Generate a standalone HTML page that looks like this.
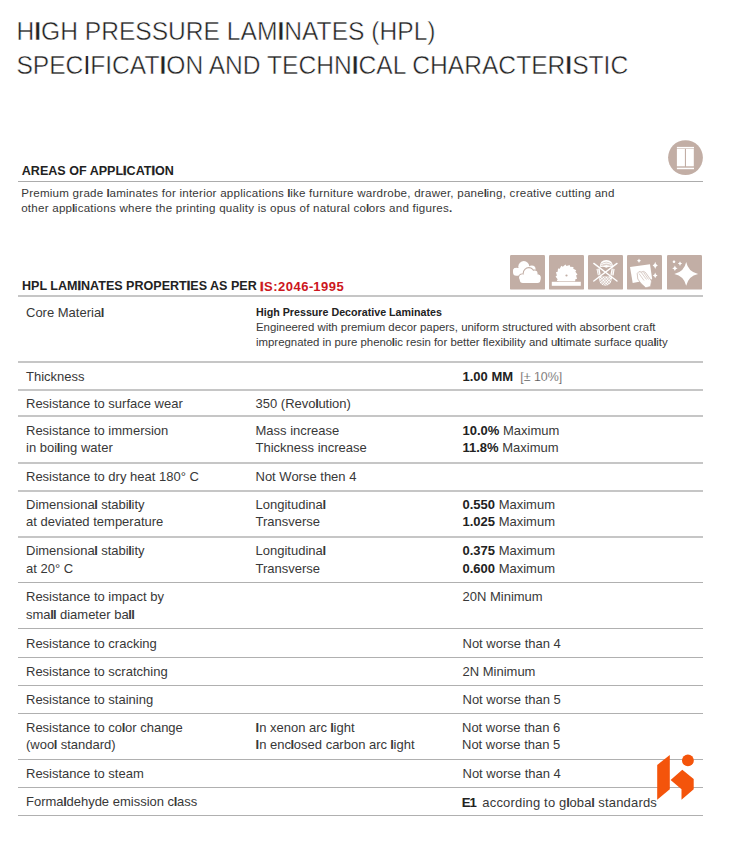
<!DOCTYPE html>
<html><head><meta charset="utf-8"><title>HPL Specification</title>
<style>
html,body{margin:0;padding:0;background:#fff;}
body{width:739px;height:841px;position:relative;overflow:hidden;font-family:"Liberation Sans", Arial, sans-serif;color:#383838;}
.t{position:absolute;white-space:nowrap;line-height:1;}
.l{position:absolute;}
.ic{position:absolute;display:block;}
b{font-weight:700;}
.k{font-weight:700;}
.kl{font-weight:700;margin-left:-0.028em;letter-spacing:-0.028em;}
.k9{font-weight:900;-webkit-text-stroke:0.5px #cc1620;}
.kb{-webkit-text-stroke:0.5px #222;}
</style></head><body>
<div class="t" style="left:16.40px;top:19.78px;font-size:24.6px;color:#222;-webkit-text-stroke:0.45px #fff;transform:scaleY(1.075);transform-origin:0 20.82px;">H<b>I</b>GH PRESSURE LAM<b>I</b>NATES (HPL)</div>
<div class="t" style="left:16.40px;top:54.08px;font-size:24.6px;color:#222;-webkit-text-stroke:0.45px #fff;transform:scaleY(1.075);transform-origin:0 20.82px;">SPEC<b style="font-weight:400;-webkit-text-stroke:0.1px #fff">I</b>FICAT<b>I</b>ON AND TECHN<b>I</b>CAL CHARACTER<b>I</b>STIC</div>
<div class="t" style="left:21.80px;top:165.38px;font-size:12.55px;font-weight:700;color:#222;">AREAS OF APPL<span class="kb">I</span>CAT<span class="kb">I</span>ON</div>
<div class="l" style="left:18px;top:181.00px;width:685px;height:1px;background:#acacac"></div>
<div class="t" style="left:21.20px;top:187.18px;font-size:11.6px;letter-spacing:0.228px;">Premium grade <span class="kl">l</span>aminates for interior applications <span class="kl">l</span>ike furniture wardrobe, drawer, pane<span class="kl">l</span>ing, creative cutting and</div>
<div class="t" style="left:21.20px;top:202.18px;font-size:11.6px;letter-spacing:0.228px;">other app<span class="kl">l</span>ications where the printing quality is opus of natural co<span class="kl">l</span>ors and figures<span class="k">.</span></div>
<div class="t" style="left:22.00px;top:280.28px;font-size:12.55px;font-weight:700;color:#222;">HPL LAM<span class="kb">I</span>NATES PROPERT<span class="kb">I</span>ES AS PER</div>
<div class="t" style="left:260.00px;top:280.00px;font-size:13px;font-weight:700;color:#cc1620;letter-spacing:0.48px;"><span class="k9">I</span>S:2046<span style="letter-spacing:0">-</span>1995</div>
<div class="l" style="left:18px;top:295.00px;width:685px;height:2px;background:#c6c6c6"></div>
<div class="l" style="left:18px;top:361.00px;width:685px;height:2px;background:#c6c6c6"></div>
<div class="l" style="left:18px;top:389.00px;width:685px;height:2px;background:#c6c6c6"></div>
<div class="l" style="left:18px;top:415.00px;width:685px;height:2px;background:#c6c6c6"></div>
<div class="l" style="left:18px;top:462.00px;width:685px;height:2px;background:#c6c6c6"></div>
<div class="l" style="left:18px;top:490.00px;width:685px;height:2px;background:#c6c6c6"></div>
<div class="l" style="left:18px;top:536.00px;width:685px;height:2px;background:#c6c6c6"></div>
<div class="l" style="left:18px;top:582.00px;width:685px;height:1px;background:#b0b0b0"></div>
<div class="l" style="left:18px;top:628.00px;width:685px;height:1px;background:#b0b0b0"></div>
<div class="l" style="left:18px;top:657.00px;width:685px;height:1px;background:#b0b0b0"></div>
<div class="l" style="left:18px;top:685.00px;width:685px;height:1px;background:#b0b0b0"></div>
<div class="l" style="left:18px;top:713.00px;width:685px;height:1px;background:#b0b0b0"></div>
<div class="l" style="left:18px;top:759.00px;width:685px;height:1px;background:#b0b0b0"></div>
<div class="l" style="left:18px;top:787.00px;width:685px;height:1px;background:#b0b0b0"></div>
<div class="l" style="left:18px;top:815.00px;width:685px;height:1px;background:#b0b0b0"></div>
<div class="t" style="left:26.00px;top:305.80px;font-size:13px;">Core Materia<span class="kl">l</span></div>
<div class="t" style="left:256.00px;top:306.75px;font-size:10.69px;font-weight:700;color:#222;">High Pressure Decorative Laminates</div>
<div class="t" style="left:256.00px;top:321.65px;font-size:11.4px;">Engineered with premium decor papers, uniform structured with absorbent craft</div>
<div class="t" style="left:256.00px;top:337.15px;font-size:11.4px;">impregnated in pure pheno<span class="kl">l</span>ic resin for better flexibility and u<span class="kl">l</span>timate surface qua<span class="kl">l</span>ity</div>
<div class="t" style="left:26.00px;top:369.50px;font-size:13px;">Thickness</div>
<div class="t" style="left:462.50px;top:369.50px;font-size:13px;"><b style="color:#222">1.00 MM</b> <span style="color:#444;margin-left:3.5px;font-size:12.4px;-webkit-text-stroke:0.25px #fff">[± 10%]</span></div>
<div class="t" style="left:26.00px;top:397.00px;font-size:13px;">Resistance to surface wear</div>
<div class="t" style="left:255.50px;top:397.00px;font-size:13px;">350 (Revo<span class="kl">l</span>ution)</div>
<div class="t" style="left:26.00px;top:423.80px;font-size:13px;">Resistance to immersion</div>
<div class="t" style="left:26.00px;top:441.00px;font-size:13px;">in boi<span class="kl">l</span>ing water</div>
<div class="t" style="left:255.50px;top:423.80px;font-size:13px;">Mass increase</div>
<div class="t" style="left:255.50px;top:441.00px;font-size:13px;">Thickness increase</div>
<div class="t" style="left:462.50px;top:423.80px;font-size:13px;"><b style="color:#222">10.0%</b> Maximum</div>
<div class="t" style="left:462.50px;top:441.00px;font-size:13px;"><b style="color:#222">11.8%</b> Maximum</div>
<div class="t" style="left:26.00px;top:469.70px;font-size:13px;">Resistance to dry heat 180° C</div>
<div class="t" style="left:255.50px;top:469.70px;font-size:13px;">Not Worse then 4</div>
<div class="t" style="left:26.00px;top:498.30px;font-size:13px;">Dimensiona<span class="kl">l</span> stabi<span class="kl">l</span>ity</div>
<div class="t" style="left:26.00px;top:515.30px;font-size:13px;">at deviated temperature</div>
<div class="t" style="left:255.50px;top:498.30px;font-size:13px;">Longitudina<span class="kl">l</span></div>
<div class="t" style="left:255.50px;top:515.30px;font-size:13px;">Transverse</div>
<div class="t" style="left:462.50px;top:498.30px;font-size:13px;"><b style="color:#222">0.550</b> Maximum</div>
<div class="t" style="left:462.50px;top:515.30px;font-size:13px;"><b style="color:#222">1.025</b> Maximum</div>
<div class="t" style="left:26.00px;top:544.30px;font-size:13px;">Dimensiona<span class="kl">l</span> stabi<span class="kl">l</span>ity</div>
<div class="t" style="left:26.00px;top:561.50px;font-size:13px;">at 20° C</div>
<div class="t" style="left:255.50px;top:544.30px;font-size:13px;">Longitudina<span class="kl">l</span></div>
<div class="t" style="left:255.50px;top:561.50px;font-size:13px;">Transverse</div>
<div class="t" style="left:462.50px;top:544.30px;font-size:13px;"><b style="color:#222">0.375</b> Maximum</div>
<div class="t" style="left:462.50px;top:561.50px;font-size:13px;"><b style="color:#222">0.600</b> Maximum</div>
<div class="t" style="left:26.00px;top:590.40px;font-size:13px;">Resistance to impact by</div>
<div class="t" style="left:26.00px;top:607.80px;font-size:13px;">sma<span class="kl">l</span><span class="kl">l</span> diameter ba<span class="kl">l</span><span class="kl">l</span></div>
<div class="t" style="left:462.50px;top:590.40px;font-size:13px;">20N Minimum</div>
<div class="t" style="left:26.00px;top:636.60px;font-size:13px;">Resistance to cracking</div>
<div class="t" style="left:462.50px;top:636.60px;font-size:13px;">Not worse than 4</div>
<div class="t" style="left:26.00px;top:664.60px;font-size:13px;">Resistance to scratching</div>
<div class="t" style="left:462.50px;top:664.60px;font-size:13px;">2N Minimum</div>
<div class="t" style="left:26.00px;top:692.50px;font-size:13px;">Resistance to staining</div>
<div class="t" style="left:462.50px;top:692.50px;font-size:13px;">Not worse than 5</div>
<div class="t" style="left:26.00px;top:720.70px;font-size:13px;">Resistance to co<span class="kl">l</span>or change</div>
<div class="t" style="left:26.00px;top:738.20px;font-size:13px;">(woo<span class="kl">l</span> standard)</div>
<div class="t" style="left:255.50px;top:720.70px;font-size:13px;"><span class="k">I</span>n xenon arc <span class="kl">l</span>ight</div>
<div class="t" style="left:255.50px;top:738.20px;font-size:13px;"><span class="k">I</span>n enc<span class="kl">l</span>osed carbon arc <span class="kl">l</span>ight</div>
<div class="t" style="left:462.00px;top:720.70px;font-size:13px;">Not worse than 6</div>
<div class="t" style="left:462.00px;top:738.20px;font-size:13px;">Not worse than 5</div>
<div class="t" style="left:26.00px;top:767.10px;font-size:13px;">Resistance to steam</div>
<div class="t" style="left:462.50px;top:767.10px;font-size:13px;">Not worse than 4</div>
<div class="t" style="left:26.00px;top:795.30px;font-size:13px;">Forma<span class="kl">l</span>dehyde emission c<span class="kl">l</span>ass</div>
<div class="t" style="left:461.70px;top:795.50px;font-size:13px;"><b style="color:#222;font-size:13.2px;letter-spacing:-0.9px">E1</b><span style="margin-left:6.3px;letter-spacing:0.18px">according to g<span class="kl">l</span>oba<span class="kl">l</span> standards</span></div>
<svg class="ic" style="left:668px;top:140px" width="35" height="35" viewBox="0 0 35 35">
<circle cx="17.5" cy="17.6" r="17.4" fill="#c2aea5"/>
<rect x="8.9" y="6.9" width="17.1" height="1.5" fill="#fff"/>
<rect x="8.9" y="8.9" width="8" height="17.4" fill="#fff"/>
<rect x="18" y="8.9" width="7.8" height="17.4" fill="#fff"/>
<rect x="8.9" y="27.7" width="17.1" height="1.5" fill="#fff"/>
</svg>
<svg class="ic" style="left:510.3px;top:255px" width="35" height="35" viewBox="0 0 35 35"><rect x="0" y="0" width="35" height="34.6" rx="1.2" fill="#c2aea5"/><g fill="#fff">
<circle cx="6.5" cy="16.2" r="3.4"/><circle cx="13.8" cy="11.6" r="5.5"/><circle cx="21.8" cy="14.2" r="3.8"/>
<rect x="3.1" y="13" width="20" height="7.8" rx="3.2"/></g>
<g fill="#c2aea5"><circle cx="12.2" cy="22.6" r="4.2"/><circle cx="18.8" cy="18.2" r="6.1"/><circle cx="24.7" cy="18.3" r="3.9"/><circle cx="27.5" cy="22.8" r="4.300000000000001"/><rect x="8.700000000000001" y="19.5" width="22.8" height="9.7" rx="4.1"/></g><g fill="#fff"><circle cx="12.2" cy="22.6" r="3.1"/><circle cx="18.8" cy="18.2" r="5.0"/><circle cx="24.7" cy="18.3" r="2.8"/><circle cx="27.5" cy="22.8" r="3.2"/><rect x="9.8" y="19.5" width="20.6" height="8.6" rx="3"/></g></svg>
<svg class="ic" style="left:549.3px;top:255px" width="35" height="35" viewBox="0 0 35 35"><rect x="0" y="0" width="35" height="34.6" rx="1.2" fill="#c2aea5"/><clipPath id="sc"><rect x="0" y="0" width="35" height="26.2"/></clipPath>
<polygon clip-path="url(#sc)" fill="#fff" points="27.10,20.50 28.03,23.69 26.37,24.17 26.00,27.48 24.29,27.29 22.69,30.20 21.17,29.37 18.58,31.45 17.50,30.10 14.31,31.03 13.83,29.37 10.52,29.00 10.71,27.29 7.80,25.69 8.63,24.17 6.55,21.58 7.90,20.50 6.97,17.31 8.63,16.83 9.00,13.52 10.71,13.71 12.31,10.80 13.83,11.63 16.42,9.55 17.50,10.90 20.69,9.97 21.17,11.63 24.48,12.00 24.29,13.71 27.20,15.31 26.37,16.83 28.45,19.42"/>
<circle cx="17.5" cy="20.5" r="1.1" fill="#c2aea5"/>
<rect x="2.8" y="26.8" width="29" height="4" fill="#fff"/></svg>
<svg class="ic" style="left:588.4px;top:255px" width="35" height="35" viewBox="0 0 35 35"><rect x="0" y="0" width="35" height="34.6" rx="1.2" fill="#c2aea5"/><path fill="#fff" d="M11.6 12.4 Q12 5 18.3 5 Q24.8 5 25.2 12.4 Q21.5 11 18.3 12.8 Q15 11 11.6 12.4Z"/>
<g fill="none" stroke="#c2aea5" stroke-width="0.55"><path d="M12.8 9.3 Q18.3 5 23.8 9.3"/><path d="M12.3 11.2 Q18.3 6.8 24.3 11.2"/><path d="M14.5 10.6 Q18.3 8.6 22.1 10.6"/></g>
<path fill="#fff" d="M8.5 14 L11.6 13.5 L12.6 19.5 L9.8 20.2Z"/><path fill="#fff" d="M26.6 14 L23.6 13.5 L22.4 19.8 L25.6 20.4Z"/>
<g fill="none" stroke="#c2aea5" stroke-width="0.5"><path d="M9.8 14 L10.9 19.8"/><path d="M25.2 14 L24 20"/></g>
<path fill="#fff" d="M10.6 20.5 Q13 21.8 17.4 21.2 Q21.8 21.8 24.1 20.5 Q24.2 30.6 17.4 30.8 Q10.6 30.6 10.6 20.5Z"/>
<g fill="none" stroke="#c2aea5" stroke-width="0.55"><path d="M11.5 25 L16.5 30.5"/><path d="M11 22 L18.5 30.5"/><path d="M13.5 21.6 L21 30"/><path d="M16 21.5 L22.6 28.8"/><path d="M19 21.5 L23.8 26.5"/>
<path d="M23.5 24 L17.8 30.6"/><path d="M23.6 21 L15 30.5"/><path d="M21 21.4 L12.8 29.5"/><path d="M18 21.5 L11.2 27.6"/><path d="M15 21.6 L10.8 24.6"/></g>
<g stroke="#fff" stroke-width="1.4" stroke-linecap="round"><line x1="5.8" y1="8.4" x2="29" y2="26"/><line x1="29" y1="8.4" x2="5.8" y2="26"/></g></svg>
<svg class="ic" style="left:627.4px;top:255px" width="35" height="35" viewBox="0 0 35 35"><rect x="0" y="0" width="35" height="34.6" rx="1.2" fill="#c2aea5"/><path fill="#fff" d="M12 3.5 Q12.336 5.4319999999999995 14.1 5.8 Q12.336 6.168 12 8.1 Q11.664 6.168 9.9 5.8 Q11.664 5.4319999999999995 12 3.5Z"/>
<path fill="#fff" d="M28.2 6.800000000000001 Q28.616 9.824 30.8 10.4 Q28.616 10.976 28.2 14.0 Q27.784 10.976 25.599999999999998 10.4 Q27.784 9.824 28.2 6.800000000000001Z"/>
<path fill="#fff" d="M28.2 17.5 Q28.584 19.936 30.599999999999998 20.4 Q28.584 20.863999999999997 28.2 23.299999999999997 Q27.816 20.863999999999997 25.8 20.4 Q27.816 19.936 28.2 17.5Z"/>
<polygon fill="#fff" points="3,11.9 23,9.2 25.2,24.3 5.7,27.9"/>
<path fill="#fff" stroke="#c2aea5" stroke-width="0.7" d="M10.2,18.5 Q11.5,15.5 14.5,17 Q16.5,15.5 18.5,17.5 L24.5,26 L23.5,31.5 L18.8,32.8 L14,28.5 L10.8,24 Z"/>
<g stroke="#c2aea5" stroke-width="0.6" fill="none"><path d="M12 18.5 L17 25.5"/><path d="M14.2 17.3 L19.5 24.5"/><path d="M16.5 17.2 L21.5 24.5"/></g></svg>
<svg class="ic" style="left:666.7px;top:255px" width="35" height="35" viewBox="0 0 35 35"><rect x="0" y="0" width="35" height="34.6" rx="1.2" fill="#c2aea5"/><path fill="#fff" d="M19.2 6.999999999999998 Q21.223 16.877 31.1 18.9 Q21.223 20.923 19.2 30.799999999999997 Q17.177 20.923 7.299999999999999 18.9 Q17.177 16.877 19.2 6.999999999999998Z"/>
<path fill="#fff" d="M13 6.199999999999999 Q13.352 8.216 15.2 8.6 Q13.352 8.984 13 11.0 Q12.648 8.984 10.8 8.6 Q12.648 8.216 13 6.199999999999999Z"/>
<path fill="#fff" d="M7.9 10.399999999999999 Q8.332 12.751999999999999 10.600000000000001 13.2 Q8.332 13.648 7.9 16.0 Q7.468 13.648 5.2 13.2 Q7.468 12.751999999999999 7.9 10.399999999999999Z"/>
<circle cx="7" cy="6.7" r="1.3" fill="#fff"/></svg>
<svg class="ic" style="left:650px;top:750px" width="50" height="55" viewBox="650 750 50 55">
<g fill="#f4540b">
<polygon points="657.2,764.9 669.8,755.1 669.8,789.2 657.2,799.8"/>
<circle cx="687.9" cy="760.4" r="5.9"/>
<polygon points="670.6,779.9 682.3,769.8 693.7,779.1 693.7,789.2 681.5,799.8 681.5,789.2"/>
</g></svg>
</body></html>
